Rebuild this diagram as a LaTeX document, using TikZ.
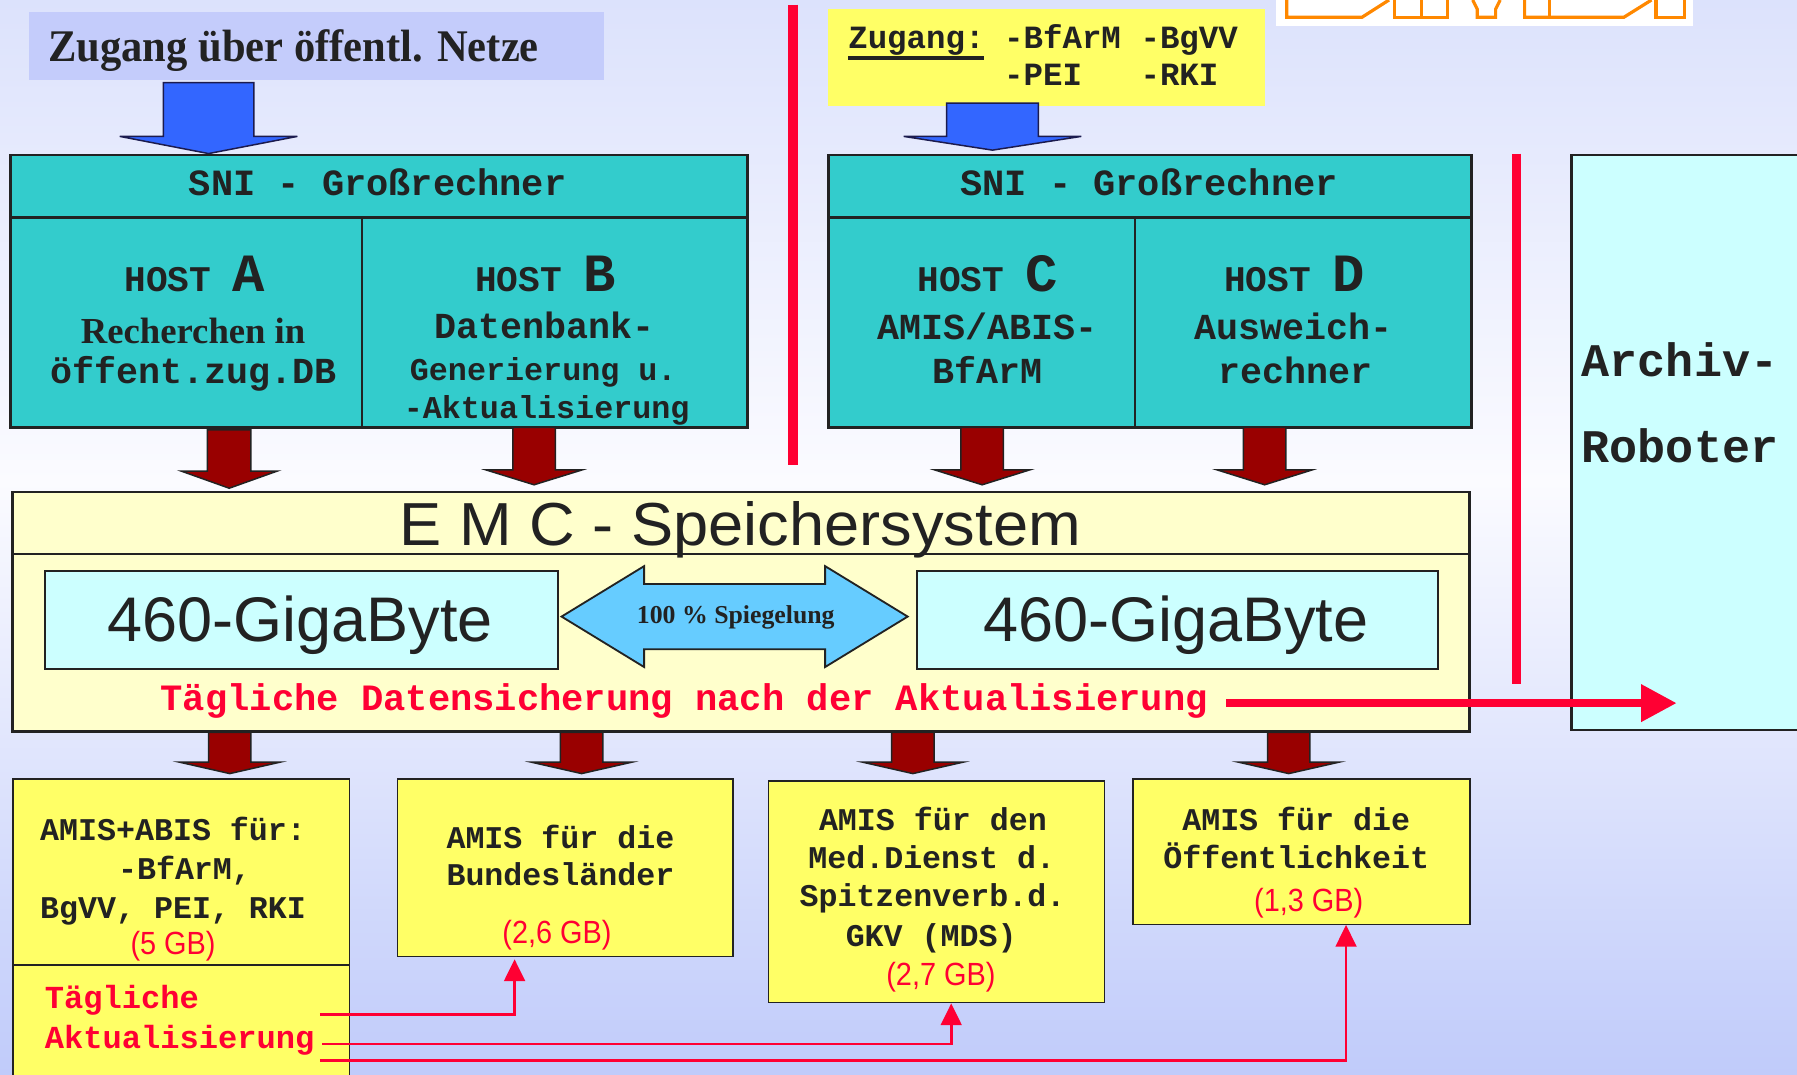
\documentclass[tikz,border=0pt]{standalone}
\usepackage{fontspec}
\setmainfont{Liberation Serif}
\newfontfamily\monof{Liberation Mono}
\newfontfamily\sansf{Liberation Sans}
\usetikzlibrary{arrows.meta}
\newcommand\fsz[1]{\fontsize{#1}{#1}\selectfont}
\definecolor{bgtop}{HTML}{DCE2FC}
\definecolor{bgmid}{HTML}{FBFBFF}
\definecolor{bgbot}{HTML}{C0CBFA}
\definecolor{labelblue}{HTML}{C4CCFB}
\definecolor{teal}{HTML}{33CCCC}
\definecolor{cream}{HTML}{FFFFCC}
\definecolor{lcyan}{HTML}{CCFFFF}
\definecolor{yel}{HTML}{FFFF66}
\definecolor{dred}{HTML}{990000}
\definecolor{ablue}{HTML}{3366FF}
\definecolor{sky}{HTML}{66CCFF}
\definecolor{rred}{HTML}{FF0033}
\definecolor{ink}{HTML}{222222}
\definecolor{orng}{HTML}{FF8800}
\newcommand\blockarrow[7]{%
  \draw[#1] (#2-#4,#3) -- (#2+#4,#3) -- (#2+#4,#5) -- (#2+#6,#5) -- (#2,#7)
    -- (#2-#6,#5) -- (#2-#4,#5) -- cycle;}
\begin{document}
\begin{tikzpicture}[x=1pt,y=-1pt,
  box/.style={draw=ink,line width=2.2pt,anchor=north west,inner sep=0pt},
  thinbox/.style={draw=ink,line width=1.2pt,anchor=north west,inner sep=0pt},
  txt/.style={anchor=base,inner sep=0pt,text=ink},
  txtw/.style={anchor=base west,inner sep=0pt,text=ink},
  mono/.style={font=\monof\bfseries\fsz{#1}},
  gb/.style={anchor=base,inner sep=0pt,text=rred,font=\sansf\fsz{28},xscale=0.9},
  redarrow/.style={draw=ink,line width=1.3pt,fill=dred},
  bluearrow/.style={draw=ink!80!blue,line width=1.3pt,fill=ablue},
  conn/.style={draw=rred,line width=2.5pt,-{Triangle[length=19pt,width=18pt]}},
  logo/.style={draw=orng,line width=2.8pt}
]
\useasboundingbox (0,0) rectangle (1568,938);
% background
\shade[top color=bgtop,bottom color=bgmid] (0,0) rectangle (1568,421);
\shade[top color=bgmid,bottom color=bgbot] (0,420) rectangle (1568,938);

% logo fragment
\fill[white] (1113,0) rectangle (1477,22.5);
\draw[logo] (1122.7,0) -- (1122.7,15) -- (1188.5,15) -- (1212,0);
\draw[logo] (1216.5,0) -- (1216.5,15) -- (1262.7,15) -- (1262.7,0);
\draw[logo] (1240,0) -- (1240,15);
\draw[logo] (1285,0) -- (1289,8) -- (1289,15) -- (1305,15) -- (1305,8) -- (1309,0);
\draw[logo] (1330.3,0) -- (1330.3,15) -- (1417,15) -- (1441,0);
\draw[logo] (1351.7,0) -- (1351.7,15);
\draw[logo] (1445,0) -- (1445,15) -- (1470,15) -- (1470,0);

% label top left
\node[fill=labelblue,anchor=north west,minimum width=502pt,minimum height=60pt,inner sep=0pt] (lbl) at (25,10) {};
\node[anchor=base west,inner sep=0pt,text=ink,font=\bfseries\fsz{39.5},xscale=0.94] (lbltxt) at (42,53.8) {Zugang über öffentl. Netze};

% Zugang box
\node[fill=yel,anchor=north west,minimum width=382pt,minimum height=84pt,inner sep=0pt] (zug) at (722,8) {};
\node[txtw,mono=28.3] (zug1) at (740,42) {Zugang:};
\draw[ink,line width=3pt] (740,50.5) -- (859,50.5);
\node[txtw,mono=28.3] (zug2) at (876,42) {-BfArM};
\node[txtw,mono=28.3] (zug3) at (995,42) {-BgVV};
\node[txtw,mono=28.3] (zug4) at (876,75) {-PEI};
\node[txtw,mono=28.3] (zug5) at (995,75) {-RKI};

% blue arrows
\blockarrow{bluearrow}{182}{72}{39.5}{119}{77.5}{134}
\blockarrow{bluearrow}{866}{90}{40}{119}{77.5}{131}

% red separators
\draw[rred,line width=8pt] (692,4) -- (692,406);
\draw[rred,line width=8pt] (1323.5,134) -- (1323.5,597);

% SNI left
\node[box,fill=teal,minimum width=643pt,minimum height=238pt] (sniL) at (8,134) {};
\draw[ink,line width=2.2pt] (8,190) -- (651,190);
\draw[ink,line width=1.6pt] (316,190) -- (316,372);
\node[txt,mono=32.3] (sniLt) at (329.5,171) {SNI - Großrechner};
\node[txt,font=\monof\bfseries] (hostA) at (170,254) {\fsz{31.5}HOST \fsz{47}A};
\node[txt,font=\bfseries\fsz{32}] (recA) at (168.5,299.6) {Recherchen in};
\node[txt,mono=32] (recA2) at (169,334.5) {öffent.zug.DB};
\node[txt,font=\monof\bfseries] (hostB) at (476,254) {\fsz{31.5}HOST \fsz{47}B};
\node[txt,mono=32] (datB) at (475,295) {Datenbank-};
\node[txt,mono=27.7] (genB) at (474,331.6) {Generierung u.};
\node[txt,mono=27.7] (aktB) at (477,365) {-Aktualisierung};

% SNI right
\node[box,fill=teal,minimum width=561pt,minimum height=238pt] (sniR) at (722,134) {};
\draw[ink,line width=2.2pt] (722,190) -- (1283,190);
\draw[ink,line width=1.6pt] (990,190) -- (990,372);
\node[txt,mono=32.3] (sniRt) at (1002.6,171) {SNI - Großrechner};
\node[txt,font=\monof\bfseries] (hostC) at (862,254) {\fsz{31.5}HOST \fsz{47}C};
\node[txt,mono=32] (amisC) at (862,296) {AMIS/ABIS-};
\node[txt,mono=32] (bfC) at (862,335) {BfArM};
\node[txt,font=\monof\bfseries] (hostD) at (1129.5,254) {\fsz{31.5}HOST \fsz{47}D};
\node[txt,mono=32] (ausD) at (1129,296) {Ausweich-};
\node[txt,mono=32] (recD) at (1130,335) {rechner};

% Archiv box
\node[box,fill=lcyan,minimum width=230pt,minimum height=502pt] (arch) at (1370,134) {};
\node[txtw,mono=40.8] (arch1) at (1380,328.7) {Archiv-};
\node[txtw,mono=40.8] (arch2) at (1380,403.7) {Roboter};

% dark red arrows top
\blockarrow{redarrow}{200}{375}{19}{411}{42}{426}
\blockarrow{redarrow}{466}{373}{18.5}{410}{42}{423}
\blockarrow{redarrow}{857}{373}{18.5}{410}{41.5}{423}
\blockarrow{redarrow}{1103.5}{373}{18.5}{410}{41.5}{423}

% EMC box
\node[box,fill=cream,minimum width=1271pt,minimum height=209pt] (emc) at (10,428) {};
\draw[ink,line width=2.2pt] (10,483.5) -- (1281,483.5);
\node[txt,font=\sansf\fsz{53},xscale=1.04] (emct) at (646,475.6) {E M C - Speichersystem};
\node[box,line width=1.8pt,fill=lcyan,minimum width=448pt,minimum height=86pt] (gbL) at (38,497) {};
\node[txt,font=\sansf\fsz{55}] (gbLt) at (262,560) {460-GigaByte};
\node[box,line width=1.8pt,fill=lcyan,minimum width=455pt,minimum height=86pt] (gbR) at (799,497) {};
\node[txt,font=\sansf\fsz{55}] (gbRt) at (1026,560) {460-GigaByte};
\draw[draw=ink,line width=1.6pt,fill=sky] (490,538) -- (562,494) -- (562,509.6) -- (720,509.6) -- (720,494)
  -- (792,538) -- (720,582) -- (720,566.5) -- (562,566.5) -- (562,582) -- cycle;
\node[txt,font=\bfseries\fsz{22.5}] (spg) at (642,544) {100 \% Spiegelung};
\node[txtw,mono=32.4,text=rred] (tds) at (140,619.6) {Tägliche Datensicherung nach der Aktualisierung};
\coordinate (ra) at (1070,613.5);
\coordinate (rb) at (1463,613.5);
\draw[rred,line width=7pt,-{Triangle[length=31pt,width=31pt]}] (ra) -- (rb);

% dark red arrows bottom
\blockarrow{redarrow}{200.5}{639}{18.5}{665}{44}{675}
\blockarrow{redarrow}{507.5}{639}{18.5}{665}{44}{675}
\blockarrow{redarrow}{796.5}{639}{18.5}{665}{44}{675}
\blockarrow{redarrow}{1124.5}{639}{18.5}{665}{44}{675}

% bottom boxes
\node[thinbox,fill=yel,minimum width=294pt,minimum height=280pt] (b1) at (10.6,679) {};
\draw[ink,line width=2pt] (10.6,842) -- (304.6,842);
\node[txt,mono=27.6] (b1a) at (151,733) {AMIS+ABIS für:};
\node[txt,mono=27.6] (b1b) at (161,767) {-BfArM,};
\node[txt,mono=27.6] (b1c) at (151,801) {BgVV, PEI, RKI};
\node[gb] (b1d) at (151,833) {(5 GB)};
\node[txtw,mono=28,text=rred] (b1e) at (39,880) {Tägliche};
\node[txtw,mono=28,text=rred] (b1f) at (39,915) {Aktualisierung};

\node[thinbox,fill=yel,minimum width=293pt,minimum height=155pt] (b2) at (346,679) {};
\node[txt,mono=27.6] (b2a) at (489,740) {AMIS für die};
\node[txt,mono=27.6] (b2b) at (489,773) {Bundesländer};
\node[gb] (b2c) at (486,823) {(2,6 GB)};

\node[thinbox,fill=yel,minimum width=293pt,minimum height=193pt] (b3) at (670,681) {};
\node[txt,mono=27.6] (b3a) at (814,725) {AMIS für den};
\node[txt,mono=27.6] (b3b) at (813,757.7) {Med.Dienst d.};
\node[txt,mono=27.6] (b3c) at (813.6,791) {Spitzenverb.d.};
\node[txt,mono=27.6] (b3d) at (812.5,825.5) {GKV (MDS)};
\node[gb] (b3e) at (821,859.5) {(2,7 GB)};

\node[thinbox,fill=yel,minimum width=294pt,minimum height=127pt] (b4) at (988,679) {};
\node[txt,mono=27.6] (b4a) at (1131,725) {AMIS für die};
\node[txt,mono=27.6] (b4b) at (1131,758) {Öffentlichkeit};
\node[gb] (b4c) at (1142,795.6) {(1,3 GB)};

% red connectors
\coordinate (s1) at (279,885.5);
\coordinate (s2) at (281,911);
\coordinate (s3) at (279,925);
\coordinate (e1) at (449,837);
\coordinate (e2) at (830,875.5);
\coordinate (e3) at (1174.5,807);
\draw[conn] (s1) -| (e1);
\draw[conn] (s2) -| (e2);
\draw[conn] (s3) -| (e3);
\end{tikzpicture}
\end{document}
